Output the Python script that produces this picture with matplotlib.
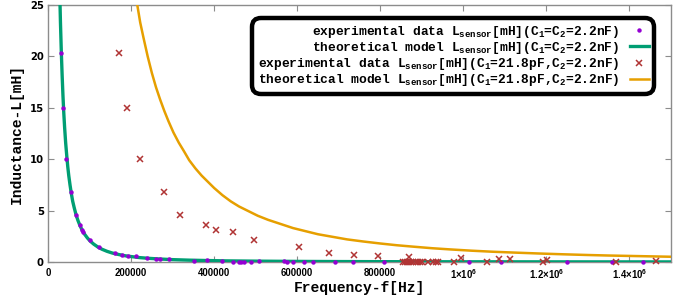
#!/usr/bin/env python3
"""Inductance vs frequency: measured sensor data against the LC model."""

import matplotlib
matplotlib.use('Agg')
import matplotlib.pyplot as plt

# experimental data, C1 = C2 = 2.2nF  (f in Hz, L in mH)
f_exp1 = [31300, 35400, 44100, 54700, 67500, 77100, 82600, 85100, 101200, 122900,
          162200, 177600, 192800, 211300, 238500, 260900, 270600, 292300, 352500,
          381900, 419300, 446500, 459500, 465800, 472300, 489900, 508400, 568000,
          576600, 590400, 615200, 638500, 691600, 734200, 807900, 1012700, 1090800,
          1249900, 1358300, 1433000]
L_exp1 = [20.3, 15.0, 10.05, 6.78, 4.57, 3.57, 3.11, 2.89, 2.11, 1.46,
          0.85, 0.68, 0.62, 0.55, 0.36, 0.32, 0.32, 0.26, 0.13,
          0.16, 0.13, 0.0, 0.0, 0.0, 0.0, 0.02, 0.05, 0.1,
          0.0, 0.0, 0.0, 0.0, 0.0, 0.0, 0.0, 0.0, 0.0,
          0.0, 0.0, 0.0]

# experimental data, C1 = 21.8pF, C2 = 2.2nF
f_exp2 = [170400, 190400, 222400, 279500, 318100, 381400, 404800, 446500, 497100,
          605500, 676400, 737300, 794400, 868200, 993500, 1086000, 1113200, 1200700,
          1368600, 1465000,
          855000, 860000, 865000, 870000, 875000, 880000, 885000, 890000, 895000,
          901000, 915000, 928000, 934000, 940000, 978000, 1057000, 1193000]
L_exp2 = [20.3, 15.0, 10.05, 6.78, 4.57, 3.57, 3.11, 2.89, 2.11,
          1.46, 0.85, 0.68, 0.58, 0.47, 0.36, 0.26, 0.26, 0.19,
          0.03, 0.12,
          0.0, 0.0, 0.0, 0.0, 0.0, 0.0, 0.0, 0.0, 0.0,
          0.0, 0.0, 0.0, 0.0, 0.0, 0.0, 0.0, 0.0]

# theoretical model curves
f_th1 = [28000, 29000, 30000, 31000, 32000, 34000, 36000, 38000, 40000, 42500,
         45000, 47500, 50000, 53000, 56000, 59500, 63000, 67500, 72000, 77000,
         82000, 88000, 95000, 102000, 110000, 120000, 130000, 142000, 155000,
         170000, 185000, 200000, 220000, 245000, 270000, 300000, 340000, 380000,
         430000, 490000, 550000, 620000, 700000, 800000, 900000, 1020000, 1150000,
         1300000, 1500000]
L_th1 = [26.8, 25.0, 23.3, 21.9, 20.5, 18.2, 16.2, 14.5, 13.1, 11.6,
         10.4, 9.3, 8.4, 7.5, 6.7, 5.9, 5.3, 4.6, 4.05, 3.54,
         3.12, 2.71, 2.33, 2.02, 1.74, 1.46, 1.24, 1.04, 0.87,
         0.73, 0.61, 0.53, 0.43, 0.35, 0.29, 0.23, 0.18, 0.145,
         0.11, 0.087, 0.07, 0.055, 0.043, 0.033, 0.026, 0.02, 0.016,
         0.012, 0.009]

f_th2 = [207000, 215000, 222000, 230000, 240000, 250000, 260000, 270000, 280000,
         290000, 302000, 315000, 327000, 340000, 355000, 370000, 385000, 400000,
         420000, 440000, 460000, 480000, 505000, 530000, 560000, 590000, 620000,
         650000, 685000, 720000, 760000, 800000, 840000, 880000, 925000, 970000,
         1020000, 1070000, 1120000, 1180000, 1240000, 1300000, 1350000, 1400000,
         1450000, 1500000]
L_th2 = [26.8, 25.0, 23.3, 21.8, 20.0, 18.4, 17.0, 15.8, 14.7,
         13.7, 12.6, 11.6, 10.8, 9.9, 9.1, 8.4, 7.8, 7.2,
         6.5, 5.9, 5.4, 5.0, 4.5, 4.1, 3.7, 3.3, 3.0,
         2.7, 2.45, 2.2, 1.99, 1.8, 1.63, 1.49, 1.34, 1.22,
         1.1, 1.0, 0.92, 0.83, 0.75, 0.68, 0.63, 0.59,
         0.55, 0.51]

x_ticks = [0, 200000, 400000, 600000, 800000, 1000000, 1200000, 1400000]
x_ticklabels = ['0', '200000', '400000', '600000', '800000',
                r'1×10$^{\mathregular{6}}$', r'1.2×10$^{\mathregular{6}}$',
                r'1.4×10$^{\mathregular{6}}$']
y_ticks = [0, 5, 10, 15, 20, 25]

labels = [
    r'experimental data L$_{\mathregular{sensor}}$[mH](C$_{\mathregular{1}}$=C$_{\mathregular{2}}$=2.2nF)',
    r'theoretical model L$_{\mathregular{sensor}}$[mH](C$_{\mathregular{1}}$=C$_{\mathregular{2}}$=2.2nF)',
    r'experimental data L$_{\mathregular{sensor}}$[mH](C$_{\mathregular{1}}$=21.8pF,C$_{\mathregular{2}}$=2.2nF)',
    r'theoretical model L$_{\mathregular{sensor}}$[mH](C$_{\mathregular{1}}$=21.8pF,C$_{\mathregular{2}}$=2.2nF)',
]

PURPLE = '#9400d3'
GREEN = '#009e73'
RED = '#b03434'
ORANGE = '#e69f00'
GRAY = '#8c8c8c'

fig = plt.figure(figsize=(6.89, 3.02), dpi=100)
ax = fig.add_axes([48 / 689, 40 / 302, 623 / 689, 257 / 302])

h1, = ax.plot(f_exp1, L_exp1, 'o', color=PURPLE, markersize=3.2, mew=0,
              clip_on=False, zorder=4, label=labels[0])
h2, = ax.plot(f_th1, L_th1, '-', color=GREEN, lw=2.4, zorder=3, label=labels[1])
h3, = ax.plot(f_exp2, L_exp2, 'x', color=RED, markersize=4, mew=1.1,
              clip_on=False, zorder=4, label=labels[2])
h4, = ax.plot(f_th2, L_th2, '-', color=ORANGE, lw=1.8, zorder=3, label=labels[3])

ax.set_xlim(0, 1500000)
ax.set_ylim(0, 25)
ax.set_xticks(x_ticks)
ax.set_xticklabels(x_ticklabels)
ax.set_yticks(y_ticks)

xtick_font = matplotlib.font_manager.FontProperties(
    family='Liberation Sans', weight='bold', size=6.9)
ytick_font = matplotlib.font_manager.FontProperties(
    family='DejaVu Sans', weight='bold', size=7.2)
for t in ax.get_xticklabels():
    t.set_fontproperties(xtick_font)
for t in ax.get_yticklabels():
    t.set_fontproperties(ytick_font)

ax.tick_params(direction='in', length=4, width=0.8, color=GRAY,
               top=True, right=True, pad=3)
ax.tick_params(axis='x', pad=4)
for sp in ax.spines.values():
    sp.set_color(GRAY)
    sp.set_linewidth(1.0)

label_font = {'family': 'Liberation Mono', 'weight': 'bold', 'size': 10.5}
ax.set_xlabel('Frequency-f[Hz]', fontdict=label_font, labelpad=0)
ax.set_ylabel('Inductance-L[mH]', fontdict=label_font, labelpad=4)

leg = ax.legend(handles=[h1, h2, h3, h4], loc='upper right',
                bbox_to_anchor=(0.973, 0.949), borderaxespad=0,
                markerfirst=False, fancybox=True, framealpha=1,
                prop={'family': 'Liberation Mono', 'weight': 'bold', 'size': 9.3},
                handlelength=1.45, handletextpad=0.85, labelspacing=0.02,
                borderpad=0.42, numpoints=1)
frame = leg.get_frame()
frame.set_edgecolor('black')
frame.set_linewidth(3.2)
frame.set_boxstyle('round,pad=0,rounding_size=0.7')

fig.savefig('out.png', dpi=100)
